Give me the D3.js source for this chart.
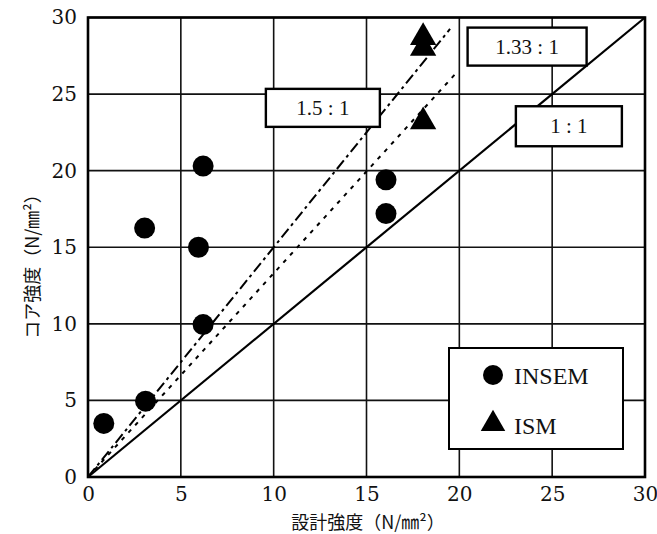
<!DOCTYPE html>
<html><head><meta charset="utf-8">
<script src="https://cdn.jsdelivr.net/npm/d3@7"></script>
<style>body{margin:0;background:#fff}svg{display:block}</style>
</head><body>
<svg id="c" width="657" height="534"></svg>
<script>
// ---- data ----
const xTicks = [0, 5, 10, 15, 20, 25, 30];
const yTicks = [0, 5, 10, 15, 20, 25, 30];
const insemX = [0.85, 3.1, 6.2, 5.95, 3.05, 6.2, 16.05, 16.05];
const insemY = [3.5, 4.95, 9.95, 15.0, 16.25, 20.3, 19.4, 17.2];
const ismX = [18.05, 18.05, 18.05];
const ismY = [28.7, 28.0, 23.2];
const lineNames = ["1 : 1", "1.5 : 1", "1.33 : 1"];
const lineSlopes = [1, 1.5, 1.33];
const lineXEnd = [30, 19.5, 19.75];
const labelX = [25.9, 12.65, 23.65];   // label box centers, data units
const labelY = [22.9, 24.1, 28.1];
const legendNames = ["INSEM", "ISM"];
const xTitle = "設計強度（N/㎜²）";
const yTitle = "コア強度（N/㎜²）";

// ---- layout ----
const svg = d3.select("#c");
const L = 88, R = 645, T = 17.5, B = 477;
const x = d3.scaleLinear().domain([0, 30]).range([L, R]);
const y = d3.scaleLinear().domain([0, 30]).range([B, T]);
const serif = "'Liberation Serif','DejaVu Serif',serif";
const tickFont = "'DejaVu Serif',serif";
const cjk = "'Noto Sans CJK JP','Noto Sans CJK SC',sans-serif";

// grid
svg.append("g").selectAll("line").data(xTicks).join("line")
  .attr("x1", d => x(d)).attr("x2", d => x(d)).attr("y1", T).attr("y2", B)
  .attr("stroke", "#111").attr("stroke-width", 1.6);
svg.append("g").selectAll("line").data(yTicks).join("line")
  .attr("y1", d => y(d)).attr("y2", d => y(d)).attr("x1", L).attr("x2", R)
  .attr("stroke", "#111").attr("stroke-width", 1.6);
svg.append("rect").attr("x", L).attr("y", T).attr("width", R - L).attr("height", B - T)
  .attr("fill", "none").attr("stroke", "#000").attr("stroke-width", 2.6);

// axes
const xAxis = svg.append("g").attr("transform", `translate(0,${B})`)
  .call(d3.axisBottom(x).tickValues(xTicks).tickSize(0).tickPadding(10));
xAxis.select(".domain").remove();
xAxis.attr("font-family", tickFont).attr("font-size", 20);
xAxis.selectAll("text").style("font-family", tickFont).style("font-size", "20px").attr("fill", "#111");
const yAxis = svg.append("g").attr("transform", `translate(${L},0)`)
  .call(d3.axisLeft(y).tickValues(yTicks).tickSize(0).tickPadding(11));
yAxis.select(".domain").remove();
yAxis.attr("font-family", tickFont).attr("font-size", 20);
yAxis.selectAll("text").style("font-family", tickFont).style("font-size", "20px").attr("fill", "#111");

// ratio lines
const dashes = [null, "11,4,3,4", "4,6"];
const widths = [2.2, 2, 2];
lineSlopes.forEach((s, i) => {
  svg.append("line")
    .attr("x1", x(0)).attr("y1", y(0))
    .attr("x2", x(lineXEnd[i])).attr("y2", y(lineXEnd[i] * s))
    .attr("stroke", "#000").attr("stroke-width", widths[i])
    .attr("stroke-dasharray", dashes[i]);
});

// label boxes
const boxW = [106, 114, 119], boxH = [40, 38, 38];
lineNames.forEach((n, i) => {
  const cx = x(labelX[i]), cy = y(labelY[i]);
  svg.append("rect").attr("x", cx - boxW[i] / 2).attr("y", cy - boxH[i] / 2)
    .attr("width", boxW[i]).attr("height", boxH[i])
    .attr("fill", "#fff").attr("stroke", "#000").attr("stroke-width", 2.4);
  svg.append("text").attr("x", cx).attr("y", cy + 7).attr("text-anchor", "middle")
    .style("font-family", serif).style("font-size", "21px").attr("fill", "#111").text(n);
});

// points
svg.append("g").selectAll("circle").data(insemX.map((v, i) => [v, insemY[i]])).join("circle")
  .attr("cx", d => x(d[0])).attr("cy", d => y(d[1])).attr("r", 10.5).attr("fill", "#000");
const tri = d3.symbol().type(d3.symbolTriangle).size(300);
svg.append("g").selectAll("path").data(ismX.map((v, i) => [v, ismY[i]])).join("path")
  .attr("d", tri).attr("transform", d => `translate(${x(d[0])},${y(d[1])})`).attr("fill", "#000");

// legend
const lg = svg.append("g");
lg.append("rect").attr("x", 449).attr("y", 348).attr("width", 174).attr("height", 101)
  .attr("fill", "#fff").attr("stroke", "#000").attr("stroke-width", 2);
lg.append("circle").attr("cx", 493).attr("cy", 375).attr("r", 10).attr("fill", "#000");
lg.append("path").attr("d", d3.symbol().type(d3.symbolTriangle).size(260))
  .attr("transform", "translate(493,424)").attr("fill", "#000");
legendNames.forEach((n, i) => {
  lg.append("text").attr("x", 514).attr("y", 384 + i * 50)
    .style("font-family", serif).style("font-size", "24px").attr("fill", "#111").text(n);
});

// titles
svg.append("text").attr("x", 368).attr("y", 529).attr("text-anchor", "middle")
  .style("font-family", cjk).style("font-size", "18px").attr("fill", "#111").text(xTitle);
svg.append("text").attr("transform", "translate(39,262) rotate(-90)").attr("text-anchor", "middle")
  .style("font-family", cjk).style("font-size", "18px").attr("fill", "#111").text(yTitle);
</script>
</body></html>
